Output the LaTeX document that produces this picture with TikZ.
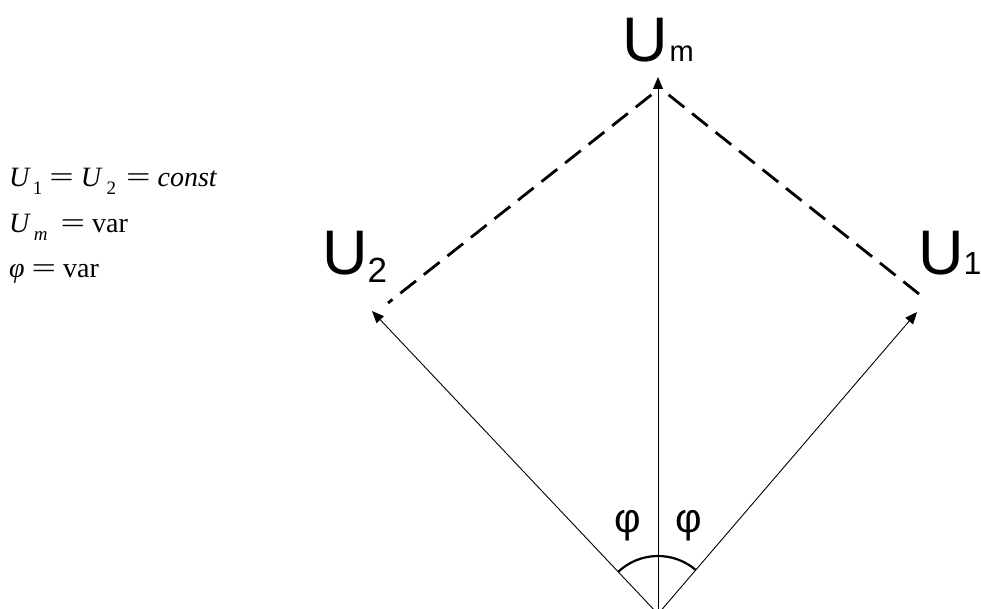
\documentclass[tikz,border=0pt]{standalone}
\usepackage{graphicx}
\usepackage{fontspec}
\setmainfont{Liberation Serif}
\setsansfont{Liberation Sans}
\usetikzlibrary{arrows.meta, positioning, calc}
\tikzset{
    vec/.style={-{Triangle[length=12pt, width=10pt]}, line width=0.9pt},
    proj/.style={line width=2.8pt, dash pattern=on 20pt off 10pt, shorten <=11pt},
    vlbl/.style={font=\sffamily\fontsize{63}{63}\selectfont, inner sep=0pt, anchor=base west},
    ang/.style={font=\sffamily\fontsize{41}{41}\selectfont, inner sep=0pt, anchor=base},
    eqs/.style={font=\fontsize{28}{45.5}\selectfont, align=left, inner sep=0pt, anchor=base west},
}
\newcommand{\vsub}[1]{\raisebox{-8pt}{\fontsize{35}{35}\selectfont #1}}
\newcommand{\esub}[1]{\raisebox{-8pt}{\fontsize{19}{19}\selectfont #1}}
\newcommand{\eqsign}{\hspace{7pt}\scalebox{1.55}[1]{=}\hspace{7pt}}

\begin{document}
\begin{tikzpicture}[x=1pt, y=1pt]
        \useasboundingbox (0,0) rectangle (981,608);

        % Taskai
        \coordinate (O)  at (658,-6);
        \coordinate (T1) at (917,296);
        \coordinate (T2) at (372,297);
        \coordinate (Tm) at (658,531);
        \coordinate (A)  at (660,520);
        \coordinate (D1) at (919,314);
        \coordinate (D2) at (388,305);

        % Vektoriai
        \draw[vec] (O) -- (T1);
        \draw[vec] (O) -- (T2);
        \draw[vec] (O) -- (Tm);

        % Projekcijos
        \draw[proj] (A) -- (D2);
        \draw[proj] (A) -- (D1);

        % Kampas
        \draw[line width=2.2pt] (O) ++(49.4:58) arc (49.4:133.3:58);

        % Uzrasai
        \node[vlbl] (Lm) at (622,546) {U\hspace{2pt}{\fontsize{29}{29}\selectfont m}};
        \node[vlbl] (L2) at (322,333) {U\vsub{2}};
        \node[vlbl] (L1) at (918,333) {U{\fontsize{32}{32}\selectfont 1}};
        \node[ang] (F2) at (627.5,76) {φ};
        \node[ang] (F1) at (689,76) {φ};

        \node[eqs] (E) at (9,330) {\textit{U}\hspace{2pt}\esub{1}\eqsign\textit{U}\hspace{4pt}\esub{2}\hspace{3pt}\eqsign\textit{const}\\
            \textit{U}\hspace{3pt}\esub{\textit{m}}\hspace{6pt}\eqsign var\\
            \textit{φ}\eqsign var};
    \end{tikzpicture}
\end{document}
